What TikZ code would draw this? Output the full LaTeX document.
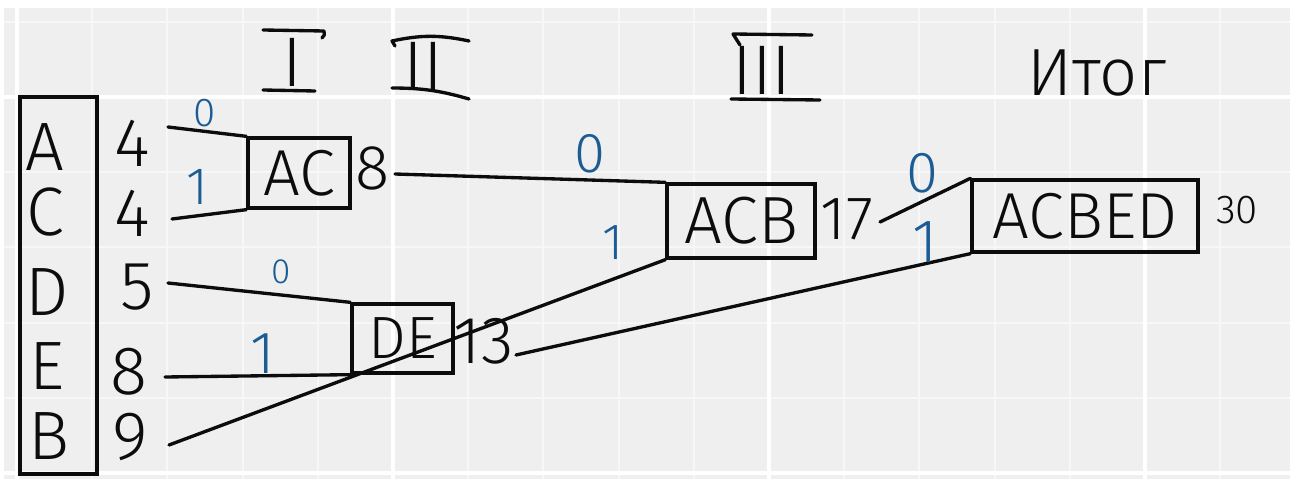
\documentclass[tikz,border=0pt]{standalone}
\usepackage{fontspec}
\setmainfont{Fira Sans Light}
\usetikzlibrary{calc}

\definecolor{paper}{RGB}{239,239,239}
\definecolor{gridminor}{RGB}{247,247,247}
\definecolor{ink}{RGB}{12,12,12}
\definecolor{bluepen}{RGB}{28,92,148}

\newcommand\pensize[1]{\fontsize{#1}{#1}\selectfont}

\begin{document}
\begin{tikzpicture}[
  x=0.02cm, y=-0.02cm,
  pen/.style={draw=ink, line width=1.9pt, line cap=round, line join=round},
  link/.style={pen},
  sym/.style={text=ink, inner sep=0pt, font=\pensize{39}},
  weight/.style={text=ink, inner sep=0pt, font=\pensize{39}},
  merged/.style={draw=ink, line width=1.9pt, inner sep=0pt, text=ink, font=\pensize{37}},
  bit/.style={text=bluepen, inner sep=0pt},
  numeral/.style={text=ink, inner sep=0pt, font=\pensize{40}},
]
\useasboundingbox (0,0) rectangle (1290,479);

% squared paper
\fill[white] (0,0) rectangle (1290,479);
\fill[paper] (4,8) rectangle (1290,479);
\foreach \i in {0,...,16}
  \draw[gridminor, line width=1.1pt] ({17+75.2*\i},8) -- ({17+75.2*\i},479);
\foreach \j in {0,...,6}
  \draw[gridminor, line width=1.1pt] (4,{21.8+75.2*\j}) -- (1290,{21.8+75.2*\j});
\foreach \i in {17,393,769,1145}
  \draw[white, line width=1.8pt] (\i,8) -- (\i,479);
\foreach \j in {97,473}
  \draw[white, line width=1.8pt] (4,\j) -- (1290,\j);

% step headings
\node[numeral] (h1) at (292,62) {I};
\draw[pen] ($(h1)+(-29,-32)$) -- ($(h1)+(32,-31)$) to[bend left=40] ($(h1)+(30,-24)$);
\draw[pen] ($(h1)+(-29,28)$) -- ($(h1)+(23,29)$);

\node[numeral] (h2) at (423,66) {II};
\draw[pen] ($(h2)+(-28,-20)$) -- ($(h2)+(-31,-25)$) to[bend left=12] ($(h2)+(46,-25)$);
\draw[pen] ($(h2)+(-31,22)$) to[bend left=8] ($(h2)+(46,33)$);

\node[numeral] (h3) at (762,70) {III};
\draw[pen] ($(h3)+(-22,-25)$) -- ($(h3)+(-29,-36)$) -- ($(h3)+(50,-35)$);
\draw[pen] ($(h3)+(-31,29)$) -- ($(h3)+(58,30)$);

\node[numeral, anchor=base, font=\pensize{38}] (total) at (1097,96) {Итог};

% symbols and their weights
\node[draw=ink, line width=1.9pt, minimum width=1.54cm, minimum height=7.54cm, inner sep=0pt] (alphabet) at (58.5,285.5) {};
\node[sym] (sA) at (45,147) {A};
\node[sym] (sC) at (45,212) {C};
\node[sym] (sD) at (47,292) {D};
\node[sym] (sE) at (47,366) {E};
\node[sym] (sB) at (49,436) {B};

\node[weight] (wA) at (132,143) {4};
\node[weight] (wC) at (132,213) {4};
\node[weight] (wD) at (137,287) {5};
\node[weight] (wE) at (129,372) {8};
\node[weight] (wB) at (130,437) {9};

% merged nodes
\node[merged, minimum width=2.04cm, minimum height=1.40cm] (AC) at (299,173) {AC};
\node[merged, minimum width=2.02cm, minimum height=1.38cm, font=\pensize{34}] (DE) at (402.5,338.5) {DE};
\node[merged, minimum width=2.96cm, minimum height=1.48cm, font=\pensize{38}] (ACB) at (741,221) {ACB};
\node[merged, minimum width=4.52cm, minimum height=1.44cm] (ACBED) at (1085,216) {ACBED};

\node[weight, font=\pensize{36}] (wAC) at (373,168) {8};
\node[weight, font=\pensize{38}] (wDE) at (484,341) {13};
\node[weight, font=\pensize{35}] (wACB) at (847,219) {17};
\node[weight, font=\pensize{23}] (wACBED) at (1237,210) {30};

% free ends of the branches
\coordinate (eA) at (168,127);
\coordinate (eC) at (172,219);
\coordinate (eD) at (168,283);
\coordinate (eE) at (165,377);
\coordinate (eB) at (169,445);
\coordinate (eAC) at (395,174);
\coordinate (eDE) at (516,355);
\coordinate (eACB) at (880,222);

% branches
\draw[link] (eA) -- (AC.north west);
\draw[link] (eC) -- (AC.south west);
\draw[link] (eD) -- (DE.north west);
\draw[link] (eE) -- (DE.south west);
\draw[link] (eAC) -- (ACB.north west);
\draw[link] (eB) -- (ACB.south west);
\draw[link] (eACB) -- (ACBED.north west);
\draw[link] (eDE) -- (ACBED.south west);

% branch codes
\node[bit, font=\pensize{23}] (bA) at (205,113) {0};
\node[bit, font=\pensize{30}] (bC) at (197,187) {1};
\node[bit, font=\pensize{20}] (bD) at (281,272) {0};
\node[bit, font=\pensize{34}] (bE) at (263,354) {1};
\node[bit, font=\pensize{32}] (bAC) at (590,154) {0};
\node[bit, font=\pensize{29}] (bB) at (613,243) {1};
\node[bit, font=\pensize{33}] (bACB) at (922,173) {0};
\node[bit, font=\pensize{35}] (bDE) at (925,242) {1};
\end{tikzpicture}
\end{document}
